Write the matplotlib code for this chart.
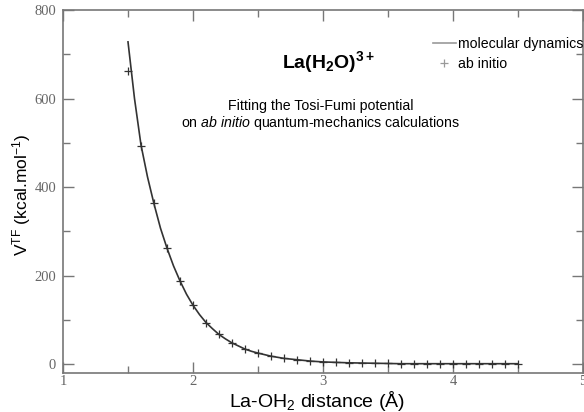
import matplotlib
matplotlib.use("Agg")
import matplotlib.pyplot as plt
from matplotlib.ticker import MultipleLocator

# ab initio points
ai_x = [1.5, 1.6, 1.7, 1.8, 1.9, 2.0, 2.1, 2.2, 2.3, 2.4, 2.5, 2.6, 2.7, 2.8, 2.9,
        3.0, 3.1, 3.2, 3.3, 3.4, 3.5, 3.6, 3.7, 3.8, 3.9, 4.0, 4.1, 4.2, 4.3, 4.4, 4.5]
ai_y = [662, 493, 364, 262, 188, 133, 94, 67, 48, 34, 25, 18, 14, 10, 7,
        5, 4, 3, 2, 2, 2, 1, 1, 1, 1, 1, 1, 1, 1, 1, 1]

# molecular dynamics curve
md_x = [1.5, 1.55, 1.6, 1.65, 1.7, 1.75, 1.8, 1.85, 1.9, 1.95, 2.0, 2.05, 2.1, 2.15,
        2.2, 2.25, 2.3, 2.35, 2.4, 2.45, 2.5, 2.6, 2.7, 2.8, 2.9, 3.0, 3.2, 3.4,
        3.6, 3.8, 4.0, 4.2, 4.5]
md_y = [728, 600, 495, 423, 362, 307, 262, 222, 188, 158, 133, 112, 94, 80,
        67, 57, 48, 41, 34, 29, 25, 18, 13, 10, 7, 5, 3, 2,
        1, 1, 1, 1, 1]

plt.rcParams['mathtext.fontset'] = 'custom'
plt.rcParams['mathtext.rm'] = 'Liberation Sans'
plt.rcParams['mathtext.it'] = 'Liberation Sans:italic'
plt.rcParams['mathtext.bf'] = 'Liberation Sans:bold'

fig = plt.figure(figsize=(5.84, 4.12), dpi=100)
ax = fig.add_axes([63/584, 1 - 373/412, (583 - 63)/584, (373 - 10)/412])

ax.plot(md_x, md_y, color='#333333', lw=1.2, label='molecular dynamics')
ax.plot(ai_x, ai_y, ls='none', marker='+', ms=5.5, mew=0.9, color='#333333', label='ab initio')

ax.set_xlim(1, 5)
ax.set_ylim(-20, 800)
ax.xaxis.set_major_locator(MultipleLocator(1))
ax.xaxis.set_minor_locator(MultipleLocator(0.5))
ax.yaxis.set_major_locator(MultipleLocator(200))
ax.yaxis.set_minor_locator(MultipleLocator(100))
ax.tick_params(which='both', direction='in', top=True, right=True, color='#777777',
               labelcolor='#666666', labelsize=10.5)
ax.tick_params(which='major', length=8, width=1, pad=5)
ax.tick_params(axis='x', which='major', pad=1.5)
ax.tick_params(which='minor', length=5, width=1)
for lbl in ax.get_xticklabels() + ax.get_yticklabels():
    lbl.set_fontfamily('Liberation Serif')
for s in ax.spines.values():
    s.set_color('#777777')
    s.set_linewidth(1.2)

ax.set_xlabel(r'La-OH$_2$ distance (Å)', fontsize=14, family='Liberation Sans')
ax.xaxis.set_label_coords(0.489, -0.045)
ax.set_ylabel(r'V$^{\rm TF}$ (kcal.mol$^{-1}$)', fontsize=12.5, family='Liberation Sans')
ax.yaxis.set_label_coords(-0.058, 0.49)

ax.text(0.51, 0.857, r'$\mathbf{La(H_2O)^{3+}}$', transform=ax.transAxes,
        ha='center', va='center', fontsize=14)
ax.text(0.495, 0.7355, 'Fitting the Tosi-Fumi potential', transform=ax.transAxes,
        ha='center', va='center', fontsize=10.2, family='Liberation Sans')
ax.text(0.495, 0.689, r'on $\it{ab\ initio}$ quantum-mechanics calculations', transform=ax.transAxes,
        ha='center', va='center', fontsize=10.2, family='Liberation Sans')

leg = ax.legend(loc='upper left', bbox_to_anchor=(0.7115, 0.925), frameon=False,
                prop={'family': 'Liberation Sans', 'size': 10.2}, handlelength=1.6,
                handletextpad=0.15, labelspacing=0.4, borderaxespad=0, borderpad=0)
leg.get_lines()[0].set_color('#999999')
leg.get_lines()[1].set_color('#999999')

fig.savefig('out.png', dpi=100, facecolor='white')
